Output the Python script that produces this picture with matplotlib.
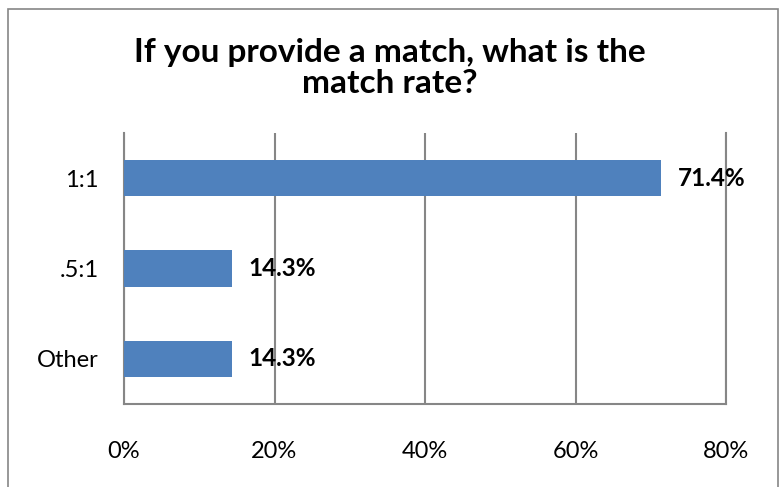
import matplotlib.pyplot as plt
from matplotlib.patches import Rectangle
from matplotlib.ticker import FuncFormatter

categories = ['1:1', '.5:1', 'Other']
values = [71.4, 14.3, 14.3]
ticks = [0, 20, 40, 60, 80]

plt.rcParams['font.family'] = ['Lato', 'DejaVu Sans']

fig = plt.figure(figsize=(7.79, 4.87), dpi=100)
ax = fig.add_axes([124 / 779, 1 - 404 / 487, (726 - 124) / 779, (404 - 133) / 487])

pos = list(range(len(categories)))[::-1]
ax.barh(pos, values, height=0.4, color='#4F81BD', zorder=3)
for p, v in zip(pos, values):
    ax.text(v + 2.2, p, '%.1f%%' % v, va='center', ha='left',
            fontsize=17.5, fontweight='bold', zorder=4)

ax.set_xlim(0, 80)
ax.set_ylim(-0.5, 2.5)
ax.set_xticks(ticks)
ax.xaxis.set_major_formatter(FuncFormatter(lambda x, _: '%d%%' % x))
ax.set_yticks(pos)
ax.set_yticklabels(categories)
ax.tick_params(axis='x', length=0, pad=27, labelsize=17)
ax.tick_params(axis='y', length=0, pad=18, labelsize=17)
ax.grid(axis='x', color='#868686', linewidth=1.5, zorder=0)
ax.spines['top'].set_visible(False)
for s in ['left', 'right', 'bottom']:
    ax.spines[s].set_color('#868686')
    ax.spines[s].set_linewidth(1.5)

fig.text(0.5, 1 - 68 / 487, 'If you provide a match, what is the\nmatch rate?',
         ha='center', va='center', fontsize=24, fontweight='bold',
         linespacing=1.12)

border = Rectangle((8 / 779, -0.01), 770 / 779, 1 - 9 / 487 + 0.01,
                   transform=fig.transFigure, fill=False,
                   edgecolor='#868686', linewidth=1.2)
fig.patches.append(border)

plt.savefig('out.png')
